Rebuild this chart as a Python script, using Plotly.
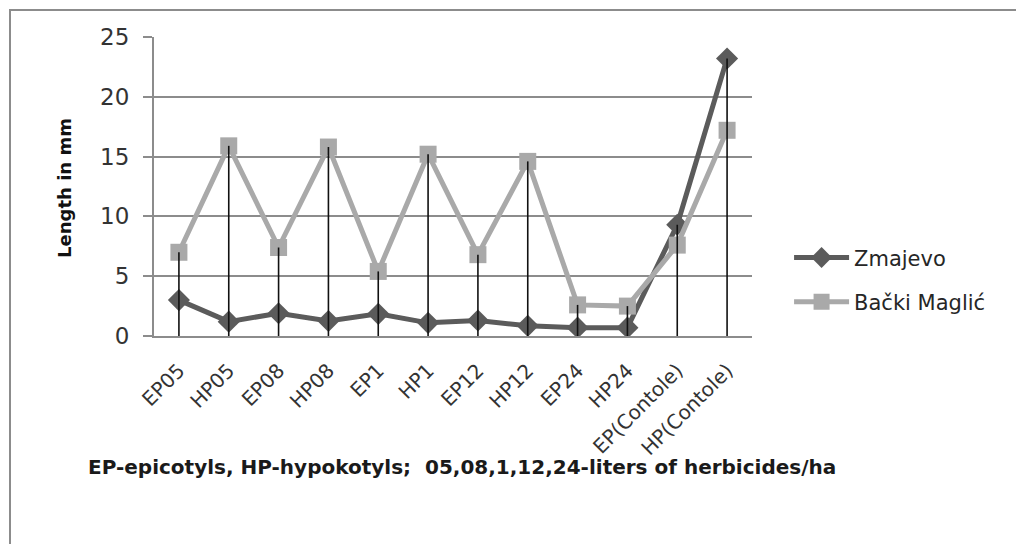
import plotly.graph_objects as go

categories = ["EP05", "HP05", "EP08", "HP08", "EP1", "HP1", "EP12", "HP12",
              "EP24", "HP24", "EP(Contole)", "HP(Contole)"]
zmajevo = [3.0, 1.2, 1.9, 1.25, 1.85, 1.1, 1.3, 0.85, 0.7, 0.7, 9.3, 23.2]
backi_maglic = [7.0, 15.9, 7.4, 15.8, 5.4, 15.2, 6.8, 14.6, 2.6, 2.5, 7.6, 17.2]
y_ticks = [0, 5, 10, 15, 20, 25]

FONT = "DejaVu Sans"

# drop lines from the highest point of each category down to the axis
drop_x, drop_y = [], []
for c, a, b in zip(categories, zmajevo, backi_maglic):
    drop_x += [c, c, None]
    drop_y += [0, max(a, b), None]

fig = go.Figure()
fig.add_trace(go.Scatter(
    x=categories, y=zmajevo, name="Zmajevo", mode="lines+markers",
    line=dict(color="#5b5b5b", width=5),
    marker=dict(symbol="diamond", size=17, color="#5b5b5b"),
    legendgroup="a"))
fig.add_trace(go.Scatter(
    x=categories, y=backi_maglic, name="Bački Maglić", mode="lines+markers",
    line=dict(color="#a9a9a9", width=5),
    marker=dict(symbol="square", size=17, color="#a9a9a9"),
    legendgroup="b"))
fig.add_trace(go.Scatter(
    x=drop_x, y=drop_y, mode="lines", showlegend=False,
    line=dict(color="#111111", width=1.6), hoverinfo="skip"))

fig.update_layout(
    width=1016, height=544,
    margin=dict(l=154, r=264, t=37, b=208),
    paper_bgcolor="white", plot_bgcolor="white",
    font=dict(family=FONT, color="#333333"),
    showlegend=True,
    legend=dict(x=1.062, xanchor="left", y=0.33, yanchor="top",
                font=dict(family=FONT, size=21, color="#262626"),
                traceorder="grouped", tracegroupgap=14, itemwidth=55,
                bgcolor="rgba(0,0,0,0)"),
    xaxis=dict(type="category", categoryorder="array", categoryarray=categories,
               range=[-0.5, 11.5], showgrid=False, showline=True,
               linecolor="#8c8c8c", linewidth=2, ticks="",
               tickangle=-45, ticklabelstandoff=13,
               tickfont=dict(family=FONT, size=20, color="#333333")),
    yaxis=dict(range=[0, 25], tickvals=y_ticks, showgrid=True,
               gridcolor="#8c8c8c", gridwidth=2, showline=True,
               linecolor="#8c8c8c", linewidth=2, ticks="outside",
               ticklen=9, tickwidth=2, tickcolor="#8c8c8c",
               ticklabelstandoff=9, zeroline=False,
               tickfont=dict(family=FONT, size=23, color="#333333")),
    annotations=[
        dict(text="<b>Length in mm</b>", xref="paper", yref="paper",
             x=-0.149, y=0.495, textangle=-90, showarrow=False,
             xanchor="center", yanchor="middle",
             font=dict(family=FONT, size=18, color="#111111")),
        dict(text="<b>EP-epicotyls, HP-hypokotyls;  05,08,1,12,24-liters of herbicides/ha</b>",
             xref="paper", yref="paper", x=-0.114, y=-0.438,
             xanchor="left", yanchor="middle", showarrow=False,
             font=dict(family=FONT, size=20, color="#1a1a1a")),
    ],
    shapes=[
        dict(type="rect", xref="paper", yref="paper",
             x0=-0.2408, x1=1.6, y0=-1.0, y1=1.0903,
             line=dict(color="#8c8c8c", width=2), layer="below"),
    ],
)

fig.write_html("out.html", config={"displayModeBar": False},
               post_script="document.body.style.margin='0';")
